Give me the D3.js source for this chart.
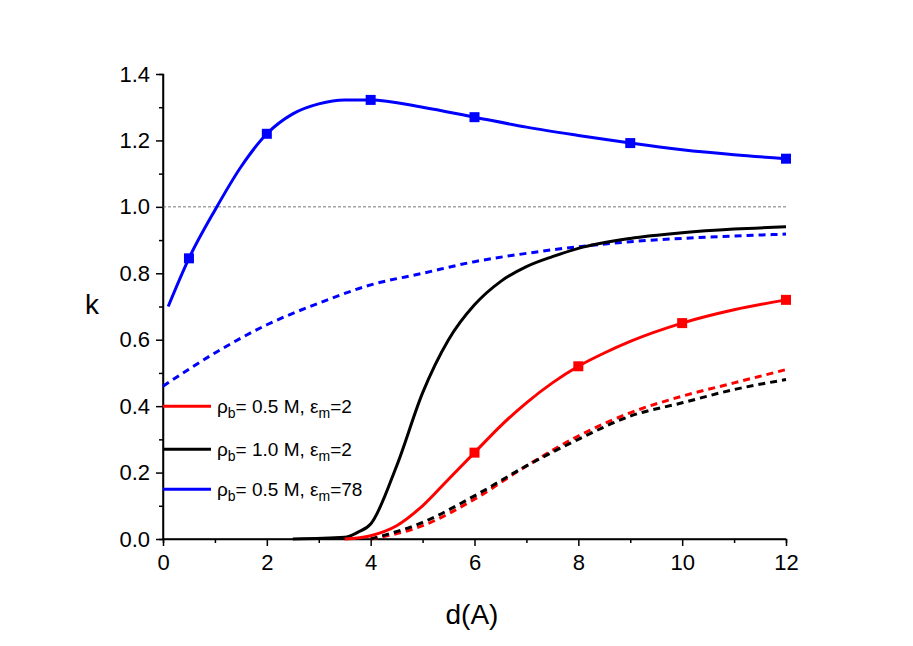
<!DOCTYPE html>
<html><head><meta charset="utf-8">
<script src="https://cdn.jsdelivr.net/npm/d3@7"></script>
<style>body{margin:0;background:#fff}text{font-family:"Liberation Sans",Arial,sans-serif}</style>
</head><body><div id="chart"></div>
<script>
// data
const blueSolid = [[0.1,0.70],[0.5,0.845],[1,0.99],[1.5,1.12],[2,1.22],[2.5,1.28],[3,1.31],[3.5,1.322],[4,1.322],[5,1.30],[6,1.27],[7,1.24],[8,1.215],[9,1.192],[10,1.172],[11,1.157],[12,1.145]];
const blueMarks = [[0.5,0.845],[2,1.22],[4,1.322],[6,1.27],[9,1.192],[12,1.145]];
const blueDash = [[0,0.46],[1,0.56],[2,0.645],[3,0.71],[4,0.765],[5,0.80],[6,0.835],[7,0.86],[8,0.88],[9,0.895],[10,0.905],[11,0.912],[12,0.918]];
const blackSolid = [[2.5,0],[3.5,0.005],[3.75,0.02],[4,0.045],[4.5,0.22],[5,0.44],[5.5,0.6],[6,0.705],[6.5,0.775],[7,0.82],[7.5,0.85],[8,0.875],[9,0.905],[10,0.922],[11,0.933],[12,0.94]];
const redSolid = [[3.5,0],[4,0.01],[4.5,0.04],[5,0.1],[5.5,0.18],[6,0.26],[6.5,0.34],[7,0.41],[7.5,0.47],[8,0.52],[8.5,0.56],[9,0.595],[10,0.65],[11,0.69],[12,0.72]];
const redMarks = [[6,0.26],[8,0.52],[10,0.65],[12,0.72]];
const redDash = [[4,0],[5,0.04],[6,0.12],[7,0.22],[8,0.31],[9,0.38],[10,0.43],[11,0.47],[12,0.51]];
const blackDash = [[4,0],[5,0.05],[6,0.13],[7,0.22],[8,0.30],[9,0.37],[10,0.41],[11,0.45],[12,0.48]];
const legendRows = [["0.5","2","#ff0000",0.4],["1.0","2","#000000",0.27],["0.5","78","#0000ff",0.15]];

const svg = d3.select("#chart").append("svg").attr("width",913).attr("height",646);
const x = d3.scaleLinear().domain([0,12]).range([163,786]);
const y = d3.scaleLinear().domain([0,1.4]).range([539,74]);

// axes
const xAxis = svg.append("g").attr("transform","translate(0,539)")
    .call(d3.axisBottom(x).tickValues(d3.range(0,13,2)).tickSize(7).tickPadding(8).tickFormat(d3.format("d")));
svg.append("g").attr("transform","translate(0,539)")
    .call(d3.axisBottom(x).tickValues(d3.range(1,12,2)).tickSize(4).tickFormat(""));
const yAxis = svg.append("g").attr("transform","translate(163,0)")
    .call(d3.axisLeft(y).tickValues(d3.range(0,1.41,0.2)).tickSize(7).tickPadding(6).tickFormat(d3.format(".1f")));
svg.append("g").attr("transform","translate(163,0)")
    .call(d3.axisLeft(y).tickValues(d3.range(0.1,1.4,0.2)).tickSize(4).tickFormat(""));
svg.selectAll(".domain, .tick line").attr("stroke","#000").attr("stroke-width",1.5);
svg.selectAll(".tick text").style("font-size","22px").attr("fill","#000");
xAxis.select(".domain").attr("d","M163,0H786");
yAxis.select(".domain").attr("d","M0,539V74");

svg.append("text").attr("x",472).attr("y",624).attr("text-anchor","middle").style("font-size","28px").text("d(A)");
svg.append("text").attr("x",92).attr("y",314).attr("text-anchor","middle").style("font-size","28px").text("k");

// reference line
svg.append("line").attr("x1",x(0)).attr("x2",x(12)).attr("y1",y(1)).attr("y2",y(1))
    .attr("stroke","#555").attr("stroke-width",0.8).attr("stroke-dasharray","3,2");

const line = d3.line().x(d=>x(d[0])).y(d=>y(d[1])).curve(d3.curveMonotoneX);
function draw(data,color,dash){
  svg.append("path").datum(data).attr("d",line).attr("fill","none").attr("stroke",color)
    .attr("stroke-width",3).attr("stroke-dasharray",dash?"7,5":null);
}
draw(blueDash,"#0000ff",true);
draw(redDash,"#ff0000",true);
draw(blackDash,"#000000",true);
draw(blackSolid,"#000000");
draw(redSolid,"#ff0000");
draw(blueSolid,"#0000ff");
function marks(data,color){
  svg.selectAll(null).data(data).enter().append("rect")
    .attr("x",d=>x(d[0])-5).attr("y",d=>y(d[1])-5).attr("width",10).attr("height",10).attr("fill",color);
}
marks(blueMarks,"#0000ff");
marks(redMarks,"#ff0000");

// legend
legendRows.forEach(r=>{
  const ly = y(r[3]);
  svg.append("line").attr("x1",x(0)).attr("x2",x(0)+48).attr("y1",ly).attr("y2",ly)
    .attr("stroke",r[2]).attr("stroke-width",3);
  const t = svg.append("text").attr("x",x(0)+54).attr("y",ly+7).style("font-size","19px");
  t.append("tspan").text("ρ");
  t.append("tspan").style("font-size","14px").attr("dy",5).text("b");
  t.append("tspan").attr("dy",-5).text("= "+r[0]+" M, ε");
  t.append("tspan").style("font-size","14px").attr("dy",5).text("m");
  t.append("tspan").attr("dy",-5).text("="+r[1]);
});
</script></body></html>
